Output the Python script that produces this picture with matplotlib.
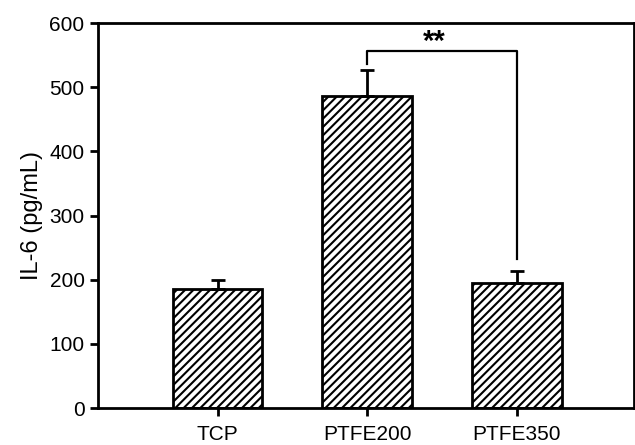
import matplotlib.pyplot as plt

# =============================
# DATA
# =============================
groups = ["TCP", "PTFE200", "PTFE350"]
il6_mean = [185, 487, 195]
il6_err = [15, 40, 19]

# significance bracket between PTFE200 and PTFE350
sig_pair = (1, 2)
sig_label = "**"
sig_top = 557
sig_left_bottom = 537
sig_right_bottom = 232

# =============================
# STYLE
# =============================
plt.rcParams["font.family"] = ["Liberation Sans", "DejaVu Sans"]
plt.rcParams["hatch.linewidth"] = 1.5

fig = plt.figure(figsize=(6.35, 4.45), dpi=100)
ax = fig.add_axes([0.154, 0.083, 0.844, 0.865])

x = list(range(len(groups)))
ax.bar(x, il6_mean, width=0.6, color="white", edgecolor="black",
       linewidth=2, hatch="////", zorder=2)
ax.errorbar(x, il6_mean, yerr=[[0] * len(x), il6_err], fmt="none",
            ecolor="black", elinewidth=2, capsize=5, capthick=2, zorder=3)

# bracket
x1, x2 = sig_pair
ax.plot([x1, x1, x2, x2], [sig_left_bottom, sig_top, sig_top, sig_right_bottom],
        color="black", linewidth=1.6, zorder=3)
ax.text((x1 + x2) / 2 - 0.05, sig_top - 8, sig_label, ha="center", va="bottom",
        fontsize=21, fontweight="bold")

ax.set_xlim(-0.8, 2.78)
ax.set_ylim(0, 600)
ax.set_yticks([0, 100, 200, 300, 400, 500, 600])
ax.set_xticks(x)
ax.set_xticklabels(groups)
ax.set_ylabel("IL-6 (pg/mL)", fontsize=17, labelpad=5)

for s in ax.spines.values():
    s.set_linewidth(2)
ax.tick_params(axis="both", direction="out", length=6, width=2, labelsize=15)
ax.tick_params(axis="x", pad=6)

fig.savefig("out.png", dpi=100)
plt.close(fig)
